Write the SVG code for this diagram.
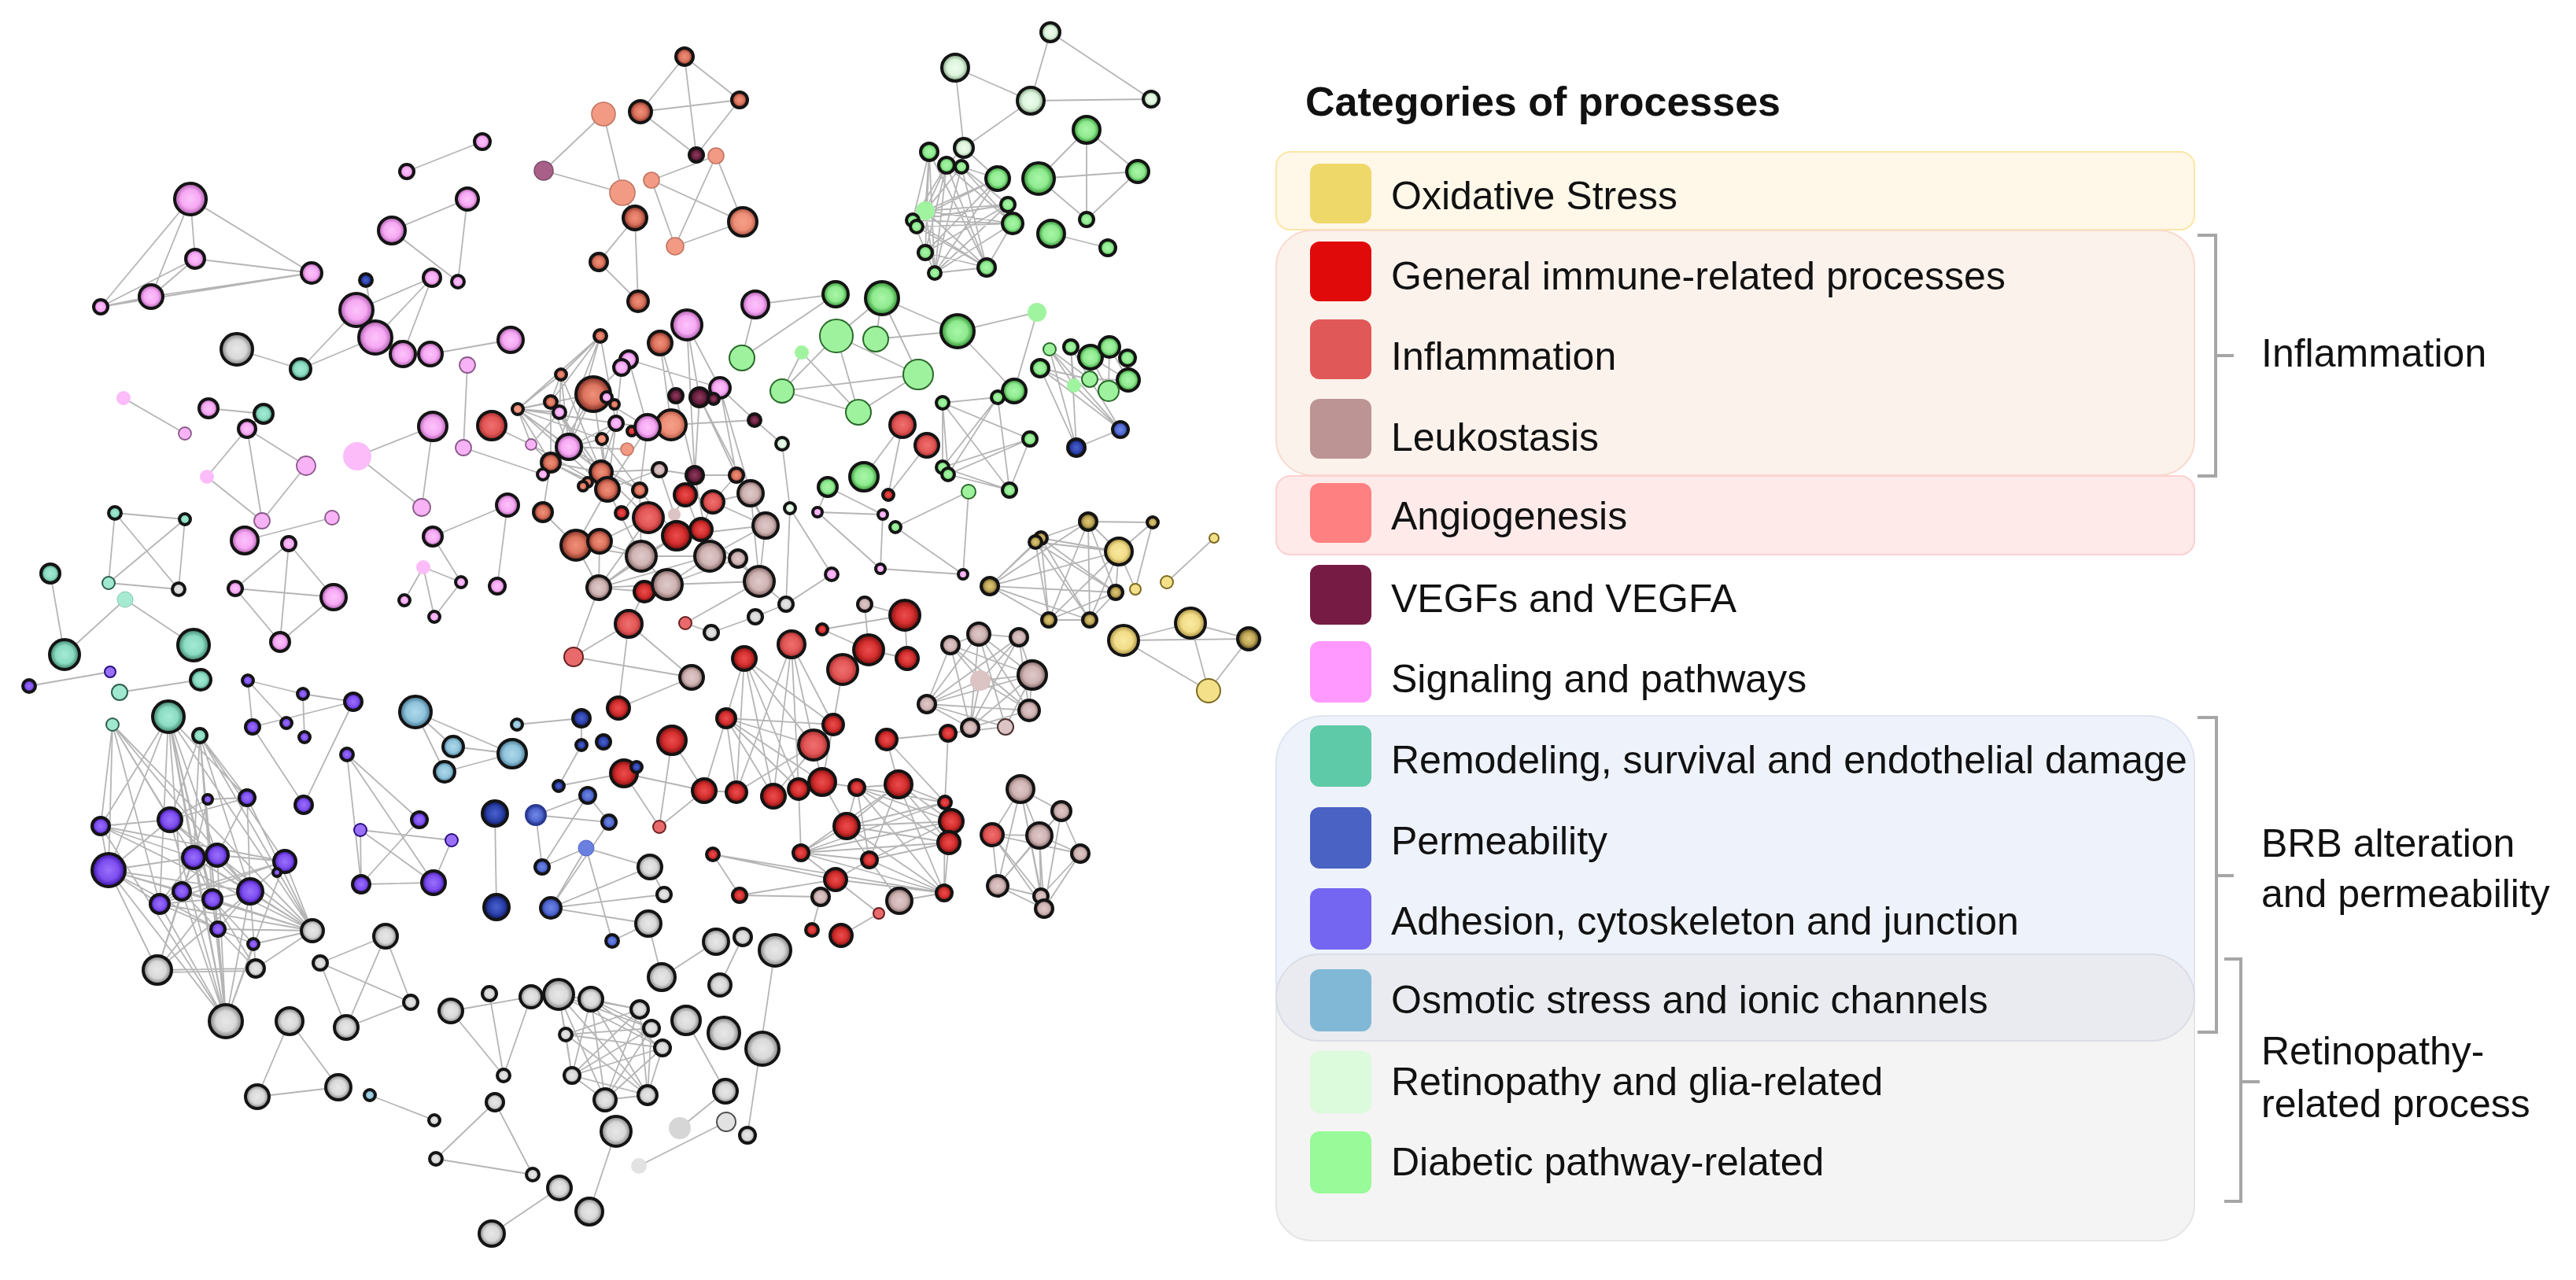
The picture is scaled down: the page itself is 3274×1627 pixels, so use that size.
<svg xmlns="http://www.w3.org/2000/svg" width="3274" height="1627" viewBox="0 0 3274 1627">
<defs>
<radialGradient id="gpk"><stop offset="0" stop-color="#fcc4fb"/><stop offset="0.6" stop-color="#f6a8f3"/><stop offset="1" stop-color="#a858a8"/></radialGradient>
<radialGradient id="gbr"><stop offset="0" stop-color="#f0917a"/><stop offset="0.55" stop-color="#dc745e"/><stop offset="1" stop-color="#7a2a20"/></radialGradient>
<radialGradient id="gsal"><stop offset="0" stop-color="#f6a08a"/><stop offset="0.6" stop-color="#ee8e76"/><stop offset="1" stop-color="#a85040"/></radialGradient>
<radialGradient id="ginf"><stop offset="0" stop-color="#ef7070"/><stop offset="0.6" stop-color="#e25656"/><stop offset="1" stop-color="#a02828"/></radialGradient>
<radialGradient id="gimm"><stop offset="0" stop-color="#ea4e4e"/><stop offset="0.55" stop-color="#d63030"/><stop offset="1" stop-color="#7a0c0c"/></radialGradient>
<radialGradient id="gleu"><stop offset="0" stop-color="#e0caca"/><stop offset="0.6" stop-color="#cfb3b3"/><stop offset="1" stop-color="#7a5c5c"/></radialGradient>
<radialGradient id="gveg"><stop offset="0" stop-color="#8e3e5e"/><stop offset="0.6" stop-color="#6a1e40"/><stop offset="1" stop-color="#2a0815"/></radialGradient>
<radialGradient id="gox"><stop offset="0" stop-color="#f9eaa2"/><stop offset="0.6" stop-color="#f1dc88"/><stop offset="1" stop-color="#a08838"/></radialGradient>
<radialGradient id="golv"><stop offset="0" stop-color="#e0ca7a"/><stop offset="0.55" stop-color="#bea656"/><stop offset="1" stop-color="#4a3a10"/></radialGradient>
<radialGradient id="gteal"><stop offset="0" stop-color="#a6ead4"/><stop offset="0.6" stop-color="#8adcc2"/><stop offset="1" stop-color="#367a64"/></radialGradient>
<radialGradient id="gperm"><stop offset="0" stop-color="#7088e4"/><stop offset="0.6" stop-color="#5068d0"/><stop offset="1" stop-color="#1a2a80"/></radialGradient>
<radialGradient id="gnavy"><stop offset="0" stop-color="#4a62cc"/><stop offset="0.6" stop-color="#2c40aa"/><stop offset="1" stop-color="#0a1450"/></radialGradient>
<radialGradient id="gadh"><stop offset="0" stop-color="#9a70fa"/><stop offset="0.6" stop-color="#7e4ef0"/><stop offset="1" stop-color="#3a10a0"/></radialGradient>
<radialGradient id="gosm"><stop offset="0" stop-color="#aed8ea"/><stop offset="0.6" stop-color="#90c4dc"/><stop offset="1" stop-color="#3e6e88"/></radialGradient>
<radialGradient id="gret"><stop offset="0" stop-color="#f0fcf0"/><stop offset="0.6" stop-color="#dcf4dc"/><stop offset="1" stop-color="#789878"/></radialGradient>
<radialGradient id="gdia"><stop offset="0" stop-color="#aaf6aa"/><stop offset="0.6" stop-color="#8eea8e"/><stop offset="1" stop-color="#288a28"/></radialGradient>
<radialGradient id="ggry"><stop offset="0" stop-color="#e8e8e8"/><stop offset="0.6" stop-color="#d8d8d8"/><stop offset="1" stop-color="#7a7a7a"/></radialGradient>
</defs>
<style>
circle{stroke:#141414;stroke-width:4}
.pk{fill:url(#gpk)} .br{fill:url(#gbr)} .sal{fill:url(#gsal)} .inf{fill:url(#ginf)} .imm{fill:url(#gimm)}
.leu{fill:url(#gleu)} .veg{fill:url(#gveg)} .ox{fill:url(#gox)} .olv{fill:url(#golv)} .teal{fill:url(#gteal)}
.perm{fill:url(#gperm)} .navy{fill:url(#gnavy)} .adh{fill:url(#gadh)} .osm{fill:url(#gosm)} .ret{fill:url(#gret)}
.dia{fill:url(#gdia)} .gry{fill:url(#ggry)}
.pkl{fill:#f8b2f6;stroke:#8a5a8a;stroke-width:1.8}
.pkn{fill:#fbbcf9;stroke:none}
.sn{fill:#f29a84;stroke:#c27462;stroke-width:1.6}
.mv{fill:#a86088;stroke:#7a4a66;stroke-width:1.5}
.inft{fill:#e86a6a;stroke:#6a2020;stroke-width:2}
.tealt{fill:#a0e8d0;stroke:#2e5e4e;stroke-width:2}
.tealn{fill:#a6ead2;stroke:#8ac8b4;stroke-width:1}
.adhl{fill:#9a70f8;stroke:#2a1080;stroke-width:2}
.perml{fill:url(#gperm);stroke:#2a3a90;stroke-width:2}
.permn{fill:#6a80e0;stroke:#5060c0;stroke-width:1}
.leun{fill:#dcc4c4;stroke:none}
.leut{fill:#dcc4c4;stroke:#4a3030;stroke-width:2}
.oxt{fill:#f5e08a;stroke:#7a6a20;stroke-width:2}
.dian{fill:#a0f4a0;stroke:none}
.diat{fill:#9ef29e;stroke:#2a6a2a;stroke-width:2}
.gryn{fill:#d6d6d6;stroke:none}
.gryt{fill:#e2e2e2;stroke:#505050;stroke-width:2}
.edges path{fill:none;stroke:#a2a2a2;stroke-width:1.8;stroke-opacity:0.8}
.box{stroke-width:2}
.sw{stroke:none}
.lt{font-family:"Liberation Sans",Arial,sans-serif;font-size:50px;fill:#111}
.br2{fill:none;stroke:#a6a6a6;stroke-width:4}
</style>
<rect width="3274" height="1627" fill="#ffffff"/>

<g id="connectors" class="edges">
<path d="M870 72L814 142M870 72L940 127M870 72L885 197M814 142L940 127M814 142L885 197M940 127L885 197M767 145L691 217M767 145L791 245M691 217L791 245M910 198L828 229M910 198L858 313M910 198L944 282M828 229L944 282M828 229L858 313M944 282L858 313M791 245L807 277M807 277L761 333M807 277L811 383M761 333L811 383"/>
<path d="M613 180L517 218M594 253L498 293M594 253L582 358M498 293L582 358M242 253L128 390M242 253L192 377M242 253L248 329M242 253L396 347M248 329L396 347M248 329L192 377M248 329L128 390M192 377L128 390M192 377L396 347M128 390L396 347M549 353L453 394M549 353L477 429M549 353L512 450M465 356L477 429M453 394L382 469M477 429L382 469M301 444L382 469M547 450L649 432M594 464L589 569M157 506L235 551M265 519L335 526M314 545L335 526M314 545L389 592M314 545L263 606M314 545L333 662M389 592L333 662M263 606L333 662M311 687L422 658M367 691L299 748M367 691L424 759M367 691L356 816M299 748L424 759M299 748L356 816M424 759L356 816M454 580L550 542M454 580L536 645M550 542L536 645M645 642L550 682M645 642L632 745M550 682L586 740M538 721L586 740M538 721L514 763M538 721L552 784M586 740L552 784M589 569L690 603M625 541L675 565"/>
<path d="M146 652L235 660M146 652L138 741M146 652L227 749M235 660L138 741M235 660L227 749M138 741L227 749M64 729L82 832M159 762L82 832M159 762L246 820M37 872L140 854M152 880L255 864M315 865L385 882M315 865L321 924M315 865L364 919M385 882L449 892M385 882L387 937M321 924L449 892M321 924L386 1023M449 892L386 1023"/>
<path d="M143 921L128 1050M143 921L138 1106M143 921L216 1042M143 921L246 1090M143 921L203 1149M143 921L318 1133M143 921L397 1183M214 911L128 1050M214 911L138 1106M214 911L246 1090M214 911L276 1087M214 911L231 1133M214 911L270 1143M214 911L277 1181M214 911L287 1298M214 911L203 1149M214 911L314 1014M214 911L397 1183M254 935L216 1042M254 935L246 1090M254 935L362 1095M254 935L270 1143M254 935L318 1133M254 935L397 1183M254 935L277 1181M254 935L287 1298M254 935L314 1014M128 1050L216 1042M128 1050L138 1106M128 1050L246 1090M128 1050L362 1095M128 1050L397 1183M216 1042L138 1106M216 1042L276 1087M216 1042L314 1014M216 1042L264 1016M216 1042L318 1133M138 1106L246 1090M138 1106L231 1133M138 1106L203 1149M138 1106L270 1143M138 1106L318 1133M138 1106L200 1233M138 1106L287 1298M138 1106L277 1181M138 1106L397 1183M246 1090L276 1087M246 1090L231 1133M246 1090L270 1143M246 1090L318 1133M246 1090L397 1183M246 1090L203 1149M276 1087L362 1095M276 1087L318 1133M276 1087L203 1149M276 1087L397 1183M264 1016L314 1014M264 1016L246 1090M314 1014L276 1087M314 1014L397 1183M314 1014L318 1133M362 1095L318 1133M362 1095L397 1183M362 1095L203 1149M362 1095L231 1133M231 1133L203 1149M231 1133L270 1143M231 1133L277 1181M231 1133L287 1298M203 1149L270 1143M203 1149L277 1181M203 1149L287 1298M203 1149L397 1183M270 1143L318 1133M270 1143L287 1298M270 1143L397 1183M270 1143L322 1200M318 1133L397 1183M318 1133L277 1181M318 1133L287 1298M277 1181L397 1183M277 1181L322 1200M277 1181L287 1298M322 1200L397 1183M322 1200L287 1298M200 1233L325 1231M200 1236L325 1234M200 1233L246 1090M200 1233L231 1133M200 1233L270 1143M200 1233L318 1133M325 1231L270 1143M325 1231L318 1133M325 1231L277 1181M325 1231L397 1183M325 1231L231 1133M287 1298L246 1090M287 1298L276 1087M287 1298L362 1095M287 1298L216 1042M287 1298L128 1050"/>
<path d="M441 959L459 1124M441 959L551 1122M441 959L533 1042M458 1055L574 1068M458 1055L551 1122M458 1055L459 1124M533 1042L459 1124M574 1068L551 1122M459 1124L551 1122"/>
<path d="M528 905L576 949M528 905L651 958M528 905L565 981M576 949L651 958M565 981L651 958M657 921L739 913M739 913L739 947M739 947L710 999M710 999L793 983M747 1011L681 1036M747 1011L689 1102M747 1011L774 1045M681 1036L774 1045M681 1036L689 1102M745 1078L689 1102M745 1078L700 1154M745 1078L778 1196M745 1078L826 1102M629 1034L631 1153M774 1045L700 1154M700 1154L826 1102M700 1154L844 1137M700 1154L824 1174M778 1196L824 1174"/>
<path d="M799 793L729 835M799 793L786 900M799 793L879 861M729 835L879 861M879 861L786 900M729 835L761 747M799 793L819 752M854 941L895 1005M854 941L838 1051M793 983L895 1005M793 983L838 1051M895 1005L838 1051M871 792L965 739M871 792L904 804M904 804L960 784M960 784L999 768M999 768L1004 646M1004 646L994 564M1057 730L999 768"/>
<path d="M946 837L923 913M946 837L936 1007M946 837L983 1012M946 837L1015 1003M946 837L1034 947M946 837L1059 921M923 913L936 1007M923 913L983 1012M923 913L1015 1003M923 913L1059 921M923 913L1034 947M923 913L1045 994M923 913L895 1005M1006 819L1059 921M1006 819L1034 947M1006 819L1015 1003M1006 819L983 1012M1006 819L936 1007M1059 921L1071 851M1059 921L1045 994M1059 921L983 1012M1034 947L1045 994M1034 947L936 1007M1045 994L1089 1001M1089 1001L1142 997M936 1007L895 1005M1071 851L1104 826M1150 782L1153 837M1150 782L1045 800M1150 782L1099 768M1045 800L1104 826M1099 768L1104 826M1104 826L1153 837M1127 940L1205 932M1127 940L1201 1020M1205 932L1201 1020M1127 940L1142 997"/>
<path d="M1142 997L1201 1020M1142 997L1209 1044M1142 997L1206 1071M1142 997L1076 1050M1142 997L1105 1093M1142 997L1200 1135M1142 997L1018 1084M1089 1001L1201 1020M1089 1001L1209 1044M1089 1001L1206 1071M1089 1001L1076 1050M1089 1001L1200 1135M1089 1001L1105 1093M1076 1050L1201 1020M1076 1050L1209 1044M1076 1050L1206 1071M1076 1050L1105 1093M1076 1050L1018 1084M1076 1050L1200 1135M1018 1084L1201 1020M1018 1084L1209 1044M1018 1084L1206 1071M1018 1084L1200 1135M1018 1084L1105 1093M1105 1093L1209 1044M1105 1093L1206 1071M1105 1093L1200 1135M1201 1020L1200 1135M1206 1071L1200 1135M1045 994L1076 1050M1015 1003L1018 1084M906 1086L940 1138M906 1086L1200 1135M906 1086L1062 1118M940 1138L1062 1118M940 1138L1043 1140M1062 1118L1043 1140M1062 1118L1117 1161M1062 1118L1200 1135M1043 1140L1032 1182M1117 1161L1069 1189M1143 1145L1200 1135M1143 1145L1105 1093M1062 1118L1105 1093M1062 1118L1018 1084"/>
<path d="M1208 820L1244 806M1208 820L1178 895M1208 820L1246 865M1208 820L1312 858M1208 820L1308 903M1208 820L1233 925M1244 806L1295 810M1244 806L1312 858M1244 806L1178 895M1244 806L1233 925M1244 806L1308 903M1244 806L1278 924M1295 810L1312 858M1295 810L1308 903M1295 810L1178 895M1295 810L1246 865M1295 810L1233 925M1246 865L1178 895M1246 865L1312 858M1246 865L1233 925M1246 865L1308 903M1312 858L1178 895M1312 858L1308 903M1312 858L1233 925M1312 858L1278 924M1178 895L1308 903M1178 895L1233 925M1178 895L1278 924M1308 903L1233 925M1205 932L1278 924"/>
<path d="M1297 1003L1349 1031M1297 1003L1261 1061M1297 1003L1321 1062M1297 1003L1268 1126M1297 1003L1323 1139M1297 1003L1327 1155M1349 1031L1321 1062M1349 1031L1373 1085M1349 1031L1268 1126M1349 1031L1327 1155M1261 1061L1321 1062M1261 1061L1268 1126M1261 1061L1323 1139M1261 1061L1327 1155M1261 1061L1373 1085M1321 1062L1373 1085M1321 1062L1268 1126M1321 1062L1323 1139M1321 1062L1327 1155M1373 1085L1323 1139M1373 1085L1327 1155M1268 1126L1323 1139M1268 1126L1327 1155"/>
<path d="M1383 663L1465 664M1383 663L1323 684M1383 663L1422 701M1383 663L1258 745M1383 663L1418 753M1383 663L1333 788M1383 663L1385 788M1323 684L1422 701M1323 684L1258 745M1323 684L1418 753M1323 684L1333 788M1323 684L1385 788M1316 689L1258 745M1316 689L1333 788M1316 689L1385 788M1316 689L1418 753M1316 689L1422 701M1422 701L1258 745M1422 701L1418 753M1422 701L1333 788M1422 701L1385 788M1422 701L1465 664M1422 701L1443 749M1258 745L1418 753M1258 745L1333 788M1258 745L1385 788M1418 753L1333 788M1418 753L1385 788M1465 664L1443 749M1333 788L1385 788M1483 740L1543 684M1428 814L1513 792M1428 814L1587 812M1428 814L1536 878M1513 792L1587 812M1513 792L1536 878M1587 812L1536 878"/>
<path d="M1214 86L1310 128M1214 86L1225 188M1335 41L1310 128M1335 41L1463 126M1310 128L1463 126M1310 128L1225 188M1181 193L1176 268M1181 193L1160 280M1181 193L1176 321M1181 193L1188 347M1181 193L1254 340M1203 210L1176 268M1203 210L1160 280M1203 210L1176 321M1203 210L1188 347M1203 210L1254 340M1203 210L1287 284M1222 212L1268 227M1222 212L1281 260M1222 212L1287 284M1222 212L1188 347M1222 212L1254 340M1222 212L1176 268M1268 227L1176 268M1268 227L1160 280M1268 227L1176 321M1268 227L1188 347M1176 268L1281 260M1176 268L1287 284M1176 268L1254 340M1176 268L1188 347M1281 260L1160 280M1281 260L1188 347M1281 260L1176 321M1160 280L1287 284M1160 280L1254 340M1160 280L1188 347M1165 288L1287 284M1165 288L1254 340M1176 321L1254 340M1287 284L1254 340M1287 284L1188 347M1254 340L1188 347M1225 188L1222 212M1225 188L1268 227M1225 188L1203 210M1381 165L1320 227M1381 165L1446 218M1381 165L1381 279M1320 227L1446 218M1320 227L1381 279M1446 218L1381 279M1336 297L1408 315"/>
<path d="M960 387L1062 374M1062 374L943 455M960 387L943 455M1121 379L1113 431M1121 379L1217 421M1121 379L1167 476M1121 379L1063 427M1217 421L1318 397M1217 421L1289 497M1318 397L1289 497M1113 431L1217 421M1063 427L1167 476M1063 427L1091 524M1019 448L994 497M1019 448L1091 524M994 497L1167 476M994 497L1091 524M1167 476L1091 524M1063 427L994 497M1198 512L1268 505M1198 512L1198 594M1198 512L1205 603M1198 512L1309 558M1198 512L1283 623M1268 505L1198 594M1268 505L1205 603M1268 505L1283 623M1309 558L1198 594M1309 558L1205 603M1309 558L1283 623M1198 594L1283 623M1205 603L1283 623M1147 540L1098 606M1147 540L1129 629M1178 566L1129 629M1052 619L1039 651M1052 619L1122 654M1039 651L1122 654M1039 651L1119 723M1122 654L1119 723M1231 625L1138 670M1231 625L1224 730M1138 670L1224 730M1119 723L1224 730M1004 646L1057 730"/>
<path d="M1334 444L1365 490M1334 444L1385 482M1334 444L1368 569M1334 444L1424 546M1361 441L1365 490M1361 441L1368 569M1361 441L1385 482M1386 454L1409 497M1386 454L1434 483M1410 441L1434 483M1410 441L1409 497M1433 455L1434 483M1385 482L1434 483M1322 468L1365 490M1322 468L1368 569M1322 468L1424 546M1322 468L1385 482M1365 490L1424 546M1385 482L1424 546M1424 546L1368 569"/>
<path d="M763 427L713 476M763 427L658 520M763 427L700 511M763 427L723 568M763 427L783 538M763 427L700 588M713 476L658 520M713 476L700 511M713 476L711 524M713 476L723 568M713 476L764 600M754 501L658 520M754 501L723 568M754 501L700 588M754 501L772 622M754 501L823 543M700 511L658 520M700 511L723 568M700 511L700 588M700 511L764 600M700 511L772 622M711 524L658 520M711 524L675 565M711 524L764 600M658 520L675 565M658 520L723 568M658 520L700 588M658 520L764 600M658 520L772 622M658 520L765 558M658 520L783 538M675 565L700 588M675 565L772 622M723 568L765 558M723 568L797 571M723 568L783 538M723 568L764 600M723 568L813 623M765 558L783 538M765 558L772 622M765 558L813 623M783 538L823 543M783 538L764 600M783 538L772 622M823 543L813 623M823 543L772 622M700 588L764 600M700 588L772 622M700 588L747 613M700 588L690 651M764 600L813 623M764 600L838 597M772 622L838 597M772 622L732 693M799 457L823 543M790 467L783 538M790 467L754 501M799 457L915 493M839 436L859 503M839 436L853 540M873 413L889 505M873 413L915 493M873 413L883 604M889 505L883 604M889 505L936 604M889 505L973 668M915 493L959 534M915 493L954 627M915 493L936 604M959 534L994 564M959 534L853 540M859 503L883 604"/>
<path d="M761 747L815 707M761 747L848 743M761 747L902 707M761 747L860 681M761 747L824 658M815 707L902 707M815 707L860 681M815 707L848 743M815 707L762 688M902 707L938 710M902 707L848 743M902 707L891 673M902 707L973 668M848 743L965 739M848 743L819 752M848 743L938 710M965 739L973 668M965 739L938 710M965 739L891 673M965 739L954 627M871 629L906 638M871 629L857 654M871 629L883 604M871 629L902 707M906 638L954 627M906 638L891 673M906 638L973 668M906 638L936 604M954 627L973 668M954 627L936 604M860 681L891 673M860 681L973 668M838 597L857 654M813 623L790 652M883 604L936 604M838 597L883 604M883 604L902 707M732 693L761 747M762 688L824 658M732 693L690 651M732 693L815 707M762 688L761 747M772 622L815 707M764 600L824 658M813 623L815 707M813 623L860 681M761 747L819 752M965 739L999 768"/>
<path d="M407 1224L490 1190M407 1224L522 1274M407 1224L440 1306M490 1190L440 1306M522 1274L440 1306M490 1190L522 1274M368 1298L327 1394M368 1298L430 1382M327 1394L430 1382M470 1392L552 1424M573 1285L675 1267M573 1285L640 1367M622 1263L640 1367M675 1267L640 1367M710 1264L813 1283M710 1264L828 1307M710 1264L842 1332M710 1264L727 1367M710 1264L769 1398M710 1264L823 1392M710 1264L719 1315M751 1270L813 1283M751 1270L828 1307M751 1270L842 1332M751 1270L727 1367M751 1270L769 1398M751 1270L823 1392M813 1283L719 1315M813 1283L727 1367M813 1283L823 1392M813 1283L769 1398M828 1307L719 1315M828 1307L727 1367M828 1307L769 1398M828 1307L823 1392M842 1332L719 1315M842 1332L727 1367M842 1332L769 1398M842 1332L823 1392M719 1315L727 1367M719 1315L823 1392M727 1367L769 1398M769 1398L823 1392M727 1367L823 1392M629 1401L554 1473M629 1401L677 1493M554 1473L677 1493M711 1510L625 1568M749 1540L783 1438M826 1102L844 1137M824 1174L841 1242M841 1242L910 1197M944 1191L915 1252M985 1208L950 1443M872 1297L922 1387M922 1387L864 1434M923 1426L812 1482"/>
</g>

<g id="nodes">
<g id="nA1"><circle class="br" cx="870" cy="72" r="11"/></g>
<g id="nA2"><circle class="br" cx="814" cy="142" r="14"/></g>
<g id="nA3"><circle class="sn" cx="767" cy="145" r="15"/></g>
<g id="nA4"><circle class="br" cx="940" cy="127" r="10"/></g>
<g id="nA5"><circle class="mv" cx="691" cy="217" r="12"/></g>
<g id="nA6"><circle class="veg" cx="885" cy="197" r="9"/></g>
<g id="nA7"><circle class="sn" cx="910" cy="198" r="10"/></g>
<g id="nA8"><circle class="sn" cx="828" cy="229" r="10"/></g>
<g id="nA9"><circle class="sn" cx="791" cy="245" r="16"/></g>
<g id="nA10"><circle class="br" cx="807" cy="277" r="15"/></g>
<g id="nA11"><circle class="sal" cx="944" cy="282" r="18"/></g>
<g id="nA12"><circle class="sn" cx="858" cy="313" r="11"/></g>
<g id="nA13"><circle class="br" cx="761" cy="333" r="11"/></g>
<g id="nA14"><circle class="br" cx="811" cy="383" r="13"/></g>
<g id="nP1"><circle class="pk" cx="613" cy="180" r="10"/></g>
<g id="nP2"><circle class="pk" cx="517" cy="218" r="9"/></g>
<g id="nP3"><circle class="pk" cx="594" cy="253" r="14"/></g>
<g id="nP4"><circle class="pk" cx="498" cy="293" r="17"/></g>
<g id="nP5"><circle class="pk" cx="582" cy="358" r="8"/></g>
<g id="nP6"><circle class="pk" cx="242" cy="253" r="20"/></g>
<g id="nP7"><circle class="pk" cx="248" cy="329" r="12"/></g>
<g id="nP8"><circle class="pk" cx="396" cy="347" r="13"/></g>
<g id="nP9"><circle class="pk" cx="192" cy="377" r="15"/></g>
<g id="nP10"><circle class="pk" cx="128" cy="390" r="9"/></g>
<g id="nP11"><circle class="pk" cx="549" cy="353" r="11"/></g>
<g id="nAD1"><circle class="navy" cx="465" cy="356" r="8"/></g>
<g id="nP13"><circle class="pk" cx="453" cy="394" r="21"/></g>
<g id="nP14"><circle class="pk" cx="477" cy="429" r="21"/></g>
<g id="nP15"><circle class="pk" cx="512" cy="450" r="16"/></g>
<g id="nP16"><circle class="pk" cx="547" cy="450" r="15"/></g>
<g id="nP17"><circle class="pk" cx="649" cy="432" r="16"/></g>
<g id="nG1"><circle class="gry" cx="301" cy="444" r="20"/></g>
<g id="nT1"><circle class="teal" cx="382" cy="469" r="13"/></g>
<g id="nP18"><circle class="pkl" cx="594" cy="464" r="10"/></g>
<g id="nP19"><circle class="pkn" cx="157" cy="506" r="9"/></g>
<g id="nP20"><circle class="pkl" cx="235" cy="551" r="8"/></g>
<g id="nP21"><circle class="pk" cx="265" cy="519" r="12"/></g>
<g id="nT2"><circle class="teal" cx="335" cy="526" r="12"/></g>
<g id="nP22"><circle class="pk" cx="314" cy="545" r="11"/></g>
<g id="nP23"><circle class="pkl" cx="389" cy="592" r="12"/></g>
<g id="nP24"><circle class="pkn" cx="263" cy="606" r="9"/></g>
<g id="nP25"><circle class="pkl" cx="333" cy="662" r="10"/></g>
<g id="nP26"><circle class="pk" cx="311" cy="687" r="17"/></g>
<g id="nP27"><circle class="pk" cx="367" cy="691" r="9"/></g>
<g id="nP28"><circle class="pkl" cx="422" cy="658" r="9"/></g>
<g id="nP29"><circle class="pk" cx="299" cy="748" r="9"/></g>
<g id="nP30"><circle class="pk" cx="424" cy="759" r="16"/></g>
<g id="nP31"><circle class="pk" cx="356" cy="816" r="12"/></g>
<g id="nP32"><circle class="pkn" cx="454" cy="580" r="18"/></g>
<g id="nP33"><circle class="pk" cx="550" cy="542" r="18"/></g>
<g id="nP34"><circle class="pkl" cx="536" cy="645" r="11"/></g>
<g id="nP35"><circle class="pkl" cx="589" cy="569" r="10"/></g>
<g id="nP36"><circle class="pk" cx="645" cy="642" r="14"/></g>
<g id="nP37"><circle class="pk" cx="550" cy="682" r="12"/></g>
<g id="nP38"><circle class="pkn" cx="538" cy="721" r="9"/></g>
<g id="nP39"><circle class="pk" cx="586" cy="740" r="7"/></g>
<g id="nP40"><circle class="pk" cx="632" cy="745" r="10"/></g>
<g id="nP41"><circle class="pk" cx="514" cy="763" r="7"/></g>
<g id="nP42"><circle class="pk" cx="552" cy="784" r="7"/></g>
<g id="nP43"><circle class="pk" cx="960" cy="387" r="17"/></g>
<g id="nT3"><circle class="teal" cx="146" cy="652" r="8"/></g>
<g id="nT4"><circle class="teal" cx="235" cy="660" r="7"/></g>
<g id="nT5"><circle class="tealt" cx="138" cy="741" r="8"/></g>
<g id="nG2"><circle class="gry" cx="227" cy="749" r="8"/></g>
<g id="nT6"><circle class="teal" cx="64" cy="729" r="12"/></g>
<g id="nT7"><circle class="tealn" cx="159" cy="762" r="10"/></g>
<g id="nT8"><circle class="teal" cx="82" cy="832" r="19"/></g>
<g id="nT9"><circle class="teal" cx="246" cy="820" r="20"/></g>
<g id="nAD2"><circle class="adh" cx="37" cy="872" r="8"/></g>
<g id="nAD3"><circle class="adhl" cx="140" cy="854" r="7"/></g>
<g id="nT10"><circle class="tealt" cx="152" cy="880" r="10"/></g>
<g id="nT11"><circle class="teal" cx="255" cy="864" r="13"/></g>
<g id="nAD4"><circle class="adh" cx="315" cy="865" r="7"/></g>
<g id="nAD5"><circle class="adh" cx="385" cy="882" r="7"/></g>
<g id="nAD6"><circle class="adh" cx="449" cy="892" r="11"/></g>
<g id="nAD7"><circle class="adh" cx="321" cy="924" r="9"/></g>
<g id="nAD8"><circle class="adh" cx="364" cy="919" r="7"/></g>
<g id="nAD9"><circle class="adh" cx="387" cy="937" r="7"/></g>
<g id="nAD10"><circle class="adh" cx="386" cy="1023" r="11"/></g>
<g id="nT12"><circle class="tealt" cx="143" cy="921" r="8"/></g>
<g id="nT13"><circle class="teal" cx="214" cy="911" r="20"/></g>
<g id="nT14"><circle class="teal" cx="254" cy="935" r="9"/></g>
<g id="nAD11"><circle class="adh" cx="264" cy="1016" r="6"/></g>
<g id="nAD12"><circle class="adh" cx="314" cy="1014" r="10"/></g>
<g id="nAD13"><circle class="adh" cx="128" cy="1050" r="11"/></g>
<g id="nAD14"><circle class="adh" cx="216" cy="1042" r="15"/></g>
<g id="nAD15"><circle class="adh" cx="138" cy="1106" r="21"/></g>
<g id="nAD16"><circle class="adh" cx="246" cy="1090" r="14"/></g>
<g id="nAD17"><circle class="adh" cx="276" cy="1087" r="14"/></g>
<g id="nAD18"><circle class="adh" cx="362" cy="1095" r="14"/></g>
<g id="nAD19"><circle class="adh" cx="352" cy="1109" r="5"/></g>
<g id="nAD20"><circle class="adh" cx="231" cy="1133" r="11"/></g>
<g id="nAD21"><circle class="adh" cx="203" cy="1149" r="12"/></g>
<g id="nAD22"><circle class="adh" cx="270" cy="1143" r="12"/></g>
<g id="nAD23"><circle class="adh" cx="318" cy="1133" r="16"/></g>
<g id="nAD24"><circle class="adh" cx="277" cy="1181" r="9"/></g>
<g id="nAD25"><circle class="adh" cx="322" cy="1200" r="7"/></g>
<g id="nAD26"><circle class="adh" cx="441" cy="959" r="8"/></g>
<g id="nAD27"><circle class="adhl" cx="458" cy="1055" r="8"/></g>
<g id="nAD28"><circle class="adh" cx="551" cy="1122" r="15"/></g>
<g id="nAD29"><circle class="adh" cx="459" cy="1124" r="11"/></g>
<g id="nAD30"><circle class="adhl" cx="574" cy="1068" r="8"/></g>
<g id="nAD31"><circle class="adh" cx="533" cy="1042" r="10"/></g>
<g id="nO1"><circle class="osm" cx="528" cy="905" r="20"/></g>
<g id="nO2"><circle class="osm" cx="657" cy="921" r="7"/></g>
<g id="nO3"><circle class="osm" cx="576" cy="949" r="13"/></g>
<g id="nO4"><circle class="osm" cx="651" cy="958" r="18"/></g>
<g id="nO5"><circle class="osm" cx="565" cy="981" r="13"/></g>
<g id="nO6"><circle class="osm" cx="470" cy="1392" r="7"/></g>
<g id="nPB1"><circle class="navy" cx="739" cy="913" r="11"/></g>
<g id="nPB2"><circle class="navy" cx="739" cy="947" r="7"/></g>
<g id="nPB3"><circle class="navy" cx="767" cy="943" r="9"/></g>
<g id="nPB4"><circle class="navy" cx="710" cy="999" r="7"/></g>
<g id="nPB5"><circle class="perm" cx="747" cy="1011" r="10"/></g>
<g id="nPB6"><circle class="navy" cx="629" cy="1034" r="16"/></g>
<g id="nPB7"><circle class="perml" cx="681" cy="1036" r="13"/></g>
<g id="nPB8"><circle class="perm" cx="774" cy="1045" r="9"/></g>
<g id="nPB9"><circle class="permn" cx="745" cy="1078" r="10"/></g>
<g id="nPB10"><circle class="perm" cx="689" cy="1102" r="9"/></g>
<g id="nPB11"><circle class="navy" cx="631" cy="1153" r="16"/></g>
<g id="nPB12"><circle class="perm" cx="700" cy="1154" r="13"/></g>
<g id="nPB13"><circle class="perm" cx="778" cy="1196" r="8"/></g>
<g id="nPB14"><circle class="perm" cx="1424" cy="546" r="10"/></g>
<g id="nPB15"><circle class="navy" cx="1368" cy="569" r="11"/></g>
<g id="nR1"><circle class="imm" cx="786" cy="900" r="14"/></g>
<g id="nR2"><circle class="imm" cx="854" cy="941" r="18"/></g>
<g id="nR3"><circle class="imm" cx="793" cy="983" r="17"/></g>
<g id="nR4"><circle class="navy" cx="809" cy="975" r="7"/></g>
<g id="nR5"><circle class="inft" cx="838" cy="1051" r="8"/></g>
<g id="nR6"><circle class="imm" cx="895" cy="1005" r="15"/></g>
<g id="nR7"><circle class="imm" cx="936" cy="1007" r="13"/></g>
<g id="nR8"><circle class="imm" cx="983" cy="1012" r="15"/></g>
<g id="nR9"><circle class="imm" cx="1015" cy="1003" r="13"/></g>
<g id="nR10"><circle class="imm" cx="1045" cy="994" r="17"/></g>
<g id="nR11"><circle class="imm" cx="1089" cy="1001" r="10"/></g>
<g id="nR12"><circle class="imm" cx="1142" cy="997" r="17"/></g>
<g id="nR13"><circle class="imm" cx="1201" cy="1020" r="8"/></g>
<g id="nR14"><circle class="imm" cx="1209" cy="1044" r="15"/></g>
<g id="nR15"><circle class="imm" cx="1206" cy="1071" r="14"/></g>
<g id="nR16"><circle class="imm" cx="1200" cy="1135" r="10"/></g>
<g id="nR17"><circle class="imm" cx="1076" cy="1050" r="16"/></g>
<g id="nR18"><circle class="imm" cx="1018" cy="1084" r="10"/></g>
<g id="nR19"><circle class="imm" cx="1105" cy="1093" r="10"/></g>
<g id="nR20"><circle class="imm" cx="1062" cy="1118" r="14"/></g>
<g id="nR21"><circle class="imm" cx="940" cy="1138" r="9"/></g>
<g id="nL1"><circle class="leu" cx="1043" cy="1140" r="11"/></g>
<g id="nL2"><circle class="leu" cx="1143" cy="1145" r="16"/></g>
<g id="nR22"><circle class="inft" cx="1117" cy="1161" r="7"/></g>
<g id="nR23"><circle class="imm" cx="906" cy="1086" r="8"/></g>
<g id="nR24"><circle class="imm" cx="1032" cy="1182" r="8"/></g>
<g id="nR25"><circle class="imm" cx="1069" cy="1189" r="14"/></g>
<g id="nI1"><circle class="inf" cx="799" cy="793" r="17"/></g>
<g id="nI2"><circle class="inft" cx="871" cy="792" r="8"/></g>
<g id="nI3"><circle class="inft" cx="729" cy="835" r="12"/></g>
<g id="nL3"><circle class="leu" cx="879" cy="861" r="15"/></g>
<g id="nR26"><circle class="imm" cx="923" cy="913" r="12"/></g>
<g id="nR27"><circle class="imm" cx="1059" cy="921" r="13"/></g>
<g id="nI4"><circle class="inf" cx="1034" cy="947" r="19"/></g>
<g id="nR28"><circle class="imm" cx="1127" cy="940" r="13"/></g>
<g id="nR29"><circle class="imm" cx="1205" cy="932" r="10"/></g>
<g id="nR30"><circle class="imm" cx="1150" cy="782" r="19"/></g>
<g id="nR31"><circle class="imm" cx="1045" cy="800" r="7"/></g>
<g id="nL4"><circle class="leu" cx="1099" cy="768" r="9"/></g>
<g id="nR32"><circle class="imm" cx="1104" cy="826" r="19"/></g>
<g id="nR33"><circle class="imm" cx="1153" cy="837" r="14"/></g>
<g id="nI5"><circle class="inf" cx="1071" cy="851" r="19"/></g>
<g id="nI6"><circle class="inf" cx="1006" cy="819" r="17"/></g>
<g id="nR34"><circle class="imm" cx="946" cy="837" r="15"/></g>
<g id="nG7"><circle class="gry" cx="999" cy="768" r="9"/></g>
<g id="nG8"><circle class="gry" cx="960" cy="784" r="9"/></g>
<g id="nG9"><circle class="gry" cx="904" cy="804" r="9"/></g>
<g id="nL5"><circle class="leu" cx="1208" cy="820" r="11"/></g>
<g id="nL6"><circle class="leu" cx="1244" cy="806" r="14"/></g>
<g id="nL7"><circle class="leu" cx="1295" cy="810" r="11"/></g>
<g id="nL8"><circle class="leun" cx="1246" cy="865" r="13"/></g>
<g id="nL9"><circle class="leu" cx="1312" cy="858" r="18"/></g>
<g id="nL10"><circle class="leu" cx="1178" cy="895" r="11"/></g>
<g id="nL11"><circle class="leu" cx="1308" cy="903" r="13"/></g>
<g id="nL12"><circle class="leu" cx="1233" cy="925" r="11"/></g>
<g id="nL13"><circle class="leut" cx="1278" cy="924" r="10"/></g>
<g id="nL14"><circle class="leu" cx="1297" cy="1003" r="17"/></g>
<g id="nL15"><circle class="leu" cx="1349" cy="1031" r="12"/></g>
<g id="nI7"><circle class="inf" cx="1261" cy="1061" r="14"/></g>
<g id="nL16"><circle class="leu" cx="1321" cy="1062" r="16"/></g>
<g id="nL17"><circle class="leu" cx="1373" cy="1085" r="11"/></g>
<g id="nL18"><circle class="leu" cx="1268" cy="1126" r="13"/></g>
<g id="nL19"><circle class="leu" cx="1323" cy="1139" r="9"/></g>
<g id="nL20"><circle class="leu" cx="1327" cy="1155" r="11"/></g>
<g id="nX1"><circle class="olv" cx="1383" cy="663" r="11"/></g>
<g id="nX2"><circle class="olv" cx="1465" cy="664" r="7"/></g>
<g id="nX3"><circle class="olv" cx="1323" cy="684" r="8"/></g>
<g id="nX4"><circle class="olv" cx="1316" cy="689" r="8"/></g>
<g id="nX5"><circle class="ox" cx="1422" cy="701" r="17"/></g>
<g id="nX6"><circle class="olv" cx="1258" cy="745" r="11"/></g>
<g id="nX7"><circle class="olv" cx="1418" cy="753" r="9"/></g>
<g id="nX8"><circle class="oxt" cx="1443" cy="749" r="7"/></g>
<g id="nX9"><circle class="olv" cx="1333" cy="788" r="9"/></g>
<g id="nX10"><circle class="olv" cx="1385" cy="788" r="9"/></g>
<g id="nX11"><circle class="oxt" cx="1483" cy="740" r="8"/></g>
<g id="nX12"><circle class="oxt" cx="1543" cy="684" r="6"/></g>
<g id="nX13"><circle class="ox" cx="1428" cy="814" r="19"/></g>
<g id="nX14"><circle class="ox" cx="1513" cy="792" r="19"/></g>
<g id="nX15"><circle class="olv" cx="1587" cy="812" r="14"/></g>
<g id="nX16"><circle class="oxt" cx="1536" cy="878" r="15"/></g>
<g id="nE1"><circle class="ret" cx="1214" cy="86" r="17"/></g>
<g id="nE2"><circle class="ret" cx="1335" cy="41" r="12"/></g>
<g id="nE3"><circle class="ret" cx="1310" cy="128" r="17"/></g>
<g id="nE4"><circle class="ret" cx="1463" cy="126" r="10"/></g>
<g id="nE5"><circle class="ret" cx="1225" cy="188" r="12"/></g>
<g id="nD1"><circle class="dia" cx="1181" cy="193" r="11"/></g>
<g id="nD2"><circle class="dia" cx="1203" cy="210" r="10"/></g>
<g id="nD3"><circle class="dia" cx="1222" cy="212" r="8"/></g>
<g id="nD4"><circle class="dia" cx="1268" cy="227" r="15"/></g>
<g id="nD5"><circle class="dian" cx="1176" cy="268" r="12"/></g>
<g id="nD6"><circle class="dia" cx="1281" cy="260" r="9"/></g>
<g id="nD7"><circle class="dia" cx="1160" cy="280" r="8"/></g>
<g id="nD8"><circle class="dia" cx="1165" cy="288" r="8"/></g>
<g id="nD9"><circle class="dia" cx="1287" cy="284" r="13"/></g>
<g id="nD10"><circle class="dia" cx="1176" cy="321" r="9"/></g>
<g id="nD11"><circle class="dia" cx="1254" cy="340" r="11"/></g>
<g id="nD12"><circle class="dia" cx="1188" cy="347" r="8"/></g>
<g id="nD13"><circle class="dia" cx="1381" cy="165" r="17"/></g>
<g id="nD14"><circle class="dia" cx="1320" cy="227" r="20"/></g>
<g id="nD15"><circle class="dia" cx="1446" cy="218" r="14"/></g>
<g id="nD16"><circle class="dia" cx="1381" cy="279" r="9"/></g>
<g id="nD17"><circle class="dia" cx="1336" cy="297" r="17"/></g>
<g id="nD18"><circle class="dia" cx="1408" cy="315" r="10"/></g>
<g id="nD19"><circle class="dia" cx="1062" cy="374" r="16"/></g>
<g id="nD20"><circle class="dia" cx="1121" cy="379" r="21"/></g>
<g id="nD21"><circle class="dia" cx="1217" cy="421" r="21"/></g>
<g id="nD22"><circle class="dian" cx="1318" cy="397" r="12"/></g>
<g id="nDL1"><circle class="diat" cx="1063" cy="427" r="21"/></g>
<g id="nDL2"><circle class="diat" cx="1113" cy="431" r="16"/></g>
<g id="nDL3"><circle class="dian" cx="1019" cy="448" r="9"/></g>
<g id="nDL4"><circle class="diat" cx="943" cy="455" r="16"/></g>
<g id="nDL5"><circle class="diat" cx="1167" cy="476" r="19"/></g>
<g id="nDL6"><circle class="diat" cx="994" cy="497" r="15"/></g>
<g id="nDL7"><circle class="diat" cx="1091" cy="524" r="16"/></g>
<g id="nD23"><circle class="dia" cx="1289" cy="497" r="15"/></g>
<g id="nD24"><circle class="dia" cx="1268" cy="505" r="8"/></g>
<g id="nD25"><circle class="dia" cx="1198" cy="512" r="8"/></g>
<g id="nD26"><circle class="dia" cx="1309" cy="558" r="9"/></g>
<g id="nD27"><circle class="dia" cx="1198" cy="594" r="8"/></g>
<g id="nD28"><circle class="dia" cx="1205" cy="603" r="8"/></g>
<g id="nD29"><circle class="dia" cx="1283" cy="623" r="9"/></g>
<g id="nDL8"><circle class="diat" cx="1231" cy="625" r="9"/></g>
<g id="nD30"><circle class="dia" cx="1098" cy="606" r="18"/></g>
<g id="nD31"><circle class="dia" cx="1052" cy="619" r="12"/></g>
<g id="nD32"><circle class="dia" cx="1138" cy="670" r="7"/></g>
<g id="nD33"><circle class="diat" cx="1334" cy="444" r="8"/></g>
<g id="nD34"><circle class="dia" cx="1361" cy="441" r="9"/></g>
<g id="nD35"><circle class="dia" cx="1386" cy="454" r="15"/></g>
<g id="nD36"><circle class="dia" cx="1410" cy="441" r="13"/></g>
<g id="nD37"><circle class="dia" cx="1433" cy="455" r="10"/></g>
<g id="nD38"><circle class="dia" cx="1322" cy="468" r="11"/></g>
<g id="nD39"><circle class="dian" cx="1365" cy="490" r="9"/></g>
<g id="nD40"><circle class="diat" cx="1385" cy="482" r="10"/></g>
<g id="nD41"><circle class="dia" cx="1434" cy="483" r="14"/></g>
<g id="nD42"><circle class="diat" cx="1409" cy="497" r="13"/></g>
<g id="nI8"><circle class="inf" cx="1147" cy="540" r="16"/></g>
<g id="nI9"><circle class="inf" cx="1178" cy="566" r="15"/></g>
<g id="nR35"><circle class="imm" cx="1129" cy="629" r="7"/></g>
<g id="nRT1"><circle class="ret" cx="1004" cy="646" r="7"/></g>
<g id="nRT2"><circle class="ret" cx="994" cy="564" r="8"/></g>
<g id="nP44"><circle class="pk" cx="1039" cy="651" r="6"/></g>
<g id="nP45"><circle class="pk" cx="1122" cy="654" r="6"/></g>
<g id="nP46"><circle class="pk" cx="1119" cy="723" r="6"/></g>
<g id="nP47"><circle class="pk" cx="1224" cy="730" r="6"/></g>
<g id="nP48"><circle class="pk" cx="1057" cy="730" r="8"/></g>
<g id="nC3"><circle class="br" cx="754" cy="501" r="22"/></g>
<g id="nC1"><circle class="br" cx="763" cy="427" r="8"/></g>
<g id="nC2"><circle class="br" cx="713" cy="476" r="7"/></g>
<g id="nC4"><circle class="pk" cx="771" cy="505" r="7"/></g>
<g id="nC5"><circle class="br" cx="781" cy="514" r="6"/></g>
<g id="nC6"><circle class="br" cx="700" cy="511" r="8"/></g>
<g id="nC7"><circle class="pk" cx="711" cy="524" r="8"/></g>
<g id="nC8"><circle class="sal" cx="658" cy="520" r="7"/></g>
<g id="nC9"><circle class="inf" cx="625" cy="541" r="18"/></g>
<g id="nC10"><circle class="pkl" cx="675" cy="565" r="7"/></g>
<g id="nC11"><circle class="pk" cx="723" cy="568" r="16"/></g>
<g id="nC12"><circle class="sal" cx="765" cy="558" r="7"/></g>
<g id="nC13"><circle class="sn" cx="797" cy="571" r="8"/></g>
<g id="nC14"><circle class="pk" cx="783" cy="538" r="9"/></g>
<g id="nC15"><circle class="imm" cx="803" cy="548" r="6"/></g>
<g id="nC17"><circle class="sal" cx="853" cy="540" r="19"/></g>
<g id="nC16"><circle class="pk" cx="823" cy="543" r="16"/></g>
<g id="nC18"><circle class="br" cx="700" cy="588" r="12"/></g>
<g id="nC19"><circle class="pk" cx="690" cy="603" r="7"/></g>
<g id="nC20"><circle class="br" cx="764" cy="600" r="14"/></g>
<g id="nC21"><circle class="br" cx="772" cy="622" r="15"/></g>
<g id="nC22"><circle class="br" cx="747" cy="613" r="6"/></g>
<g id="nC23"><circle class="br" cx="741" cy="618" r="6"/></g>
<g id="nC24"><circle class="br" cx="813" cy="623" r="9"/></g>
<g id="nC25"><circle class="leu" cx="838" cy="597" r="9"/></g>
<g id="nC26"><circle class="veg" cx="883" cy="604" r="11"/></g>
<g id="nC27"><circle class="br" cx="936" cy="604" r="9"/></g>
<g id="nC28"><circle class="pk" cx="799" cy="457" r="11"/></g>
<g id="nC29"><circle class="pk" cx="790" cy="467" r="10"/></g>
<g id="nC30"><circle class="br" cx="839" cy="436" r="15"/></g>
<g id="nC31"><circle class="pk" cx="873" cy="413" r="19"/></g>
<g id="nV1"><circle class="veg" cx="859" cy="503" r="9"/></g>
<g id="nV2"><circle class="veg" cx="889" cy="505" r="12"/></g>
<g id="nP50"><circle class="pk" cx="915" cy="493" r="13"/></g>
<g id="nV3"><circle class="veg" cx="907" cy="507" r="7"/></g>
<g id="nV4"><circle class="veg" cx="959" cy="534" r="8"/></g>
<g id="nC32"><circle class="br" cx="690" cy="651" r="12"/></g>
<g id="nC33"><circle class="imm" cx="790" cy="652" r="8"/></g>
<g id="nI10"><circle class="imm" cx="871" cy="629" r="14"/></g>
<g id="nI11"><circle class="inf" cx="906" cy="638" r="14"/></g>
<g id="nL21"><circle class="leu" cx="954" cy="627" r="16"/></g>
<g id="nL22"><circle class="leun" cx="857" cy="654" r="8"/></g>
<g id="nI12"><circle class="inf" cx="824" cy="658" r="19"/></g>
<g id="nR36"><circle class="imm" cx="860" cy="681" r="18"/></g>
<g id="nR37"><circle class="imm" cx="891" cy="673" r="14"/></g>
<g id="nL23"><circle class="leu" cx="973" cy="668" r="16"/></g>
<g id="nC34"><circle class="br" cx="732" cy="693" r="19"/></g>
<g id="nC35"><circle class="br" cx="762" cy="688" r="15"/></g>
<g id="nL24"><circle class="leu" cx="815" cy="707" r="19"/></g>
<g id="nL25"><circle class="leu" cx="902" cy="707" r="19"/></g>
<g id="nL26"><circle class="leu" cx="938" cy="710" r="11"/></g>
<g id="nL27"><circle class="leu" cx="761" cy="747" r="15"/></g>
<g id="nR38"><circle class="imm" cx="819" cy="752" r="13"/></g>
<g id="nL28"><circle class="leu" cx="848" cy="743" r="19"/></g>
<g id="nL29"><circle class="leu" cx="965" cy="739" r="19"/></g>
<g id="nG3"><circle class="gry" cx="397" cy="1183" r="14"/></g>
<g id="nG10"><circle class="gry" cx="490" cy="1190" r="15"/></g>
<g id="nG4"><circle class="gry" cx="200" cy="1233" r="18"/></g>
<g id="nG5"><circle class="gry" cx="325" cy="1231" r="11"/></g>
<g id="nG11"><circle class="gry" cx="407" cy="1224" r="9"/></g>
<g id="nG12"><circle class="gry" cx="522" cy="1274" r="9"/></g>
<g id="nG6"><circle class="gry" cx="287" cy="1298" r="21"/></g>
<g id="nG13"><circle class="gry" cx="368" cy="1298" r="17"/></g>
<g id="nG14"><circle class="gry" cx="440" cy="1306" r="15"/></g>
<g id="nG15"><circle class="gry" cx="573" cy="1285" r="15"/></g>
<g id="nG16"><circle class="gry" cx="622" cy="1263" r="9"/></g>
<g id="nG17"><circle class="gry" cx="675" cy="1267" r="14"/></g>
<g id="nG18"><circle class="gry" cx="710" cy="1264" r="19"/></g>
<g id="nG19"><circle class="gry" cx="751" cy="1270" r="15"/></g>
<g id="nG20"><circle class="gry" cx="813" cy="1283" r="11"/></g>
<g id="nG21"><circle class="gry" cx="828" cy="1307" r="10"/></g>
<g id="nG22"><circle class="gry" cx="842" cy="1332" r="10"/></g>
<g id="nG23"><circle class="gry" cx="719" cy="1315" r="8"/></g>
<g id="nG24"><circle class="gry" cx="727" cy="1367" r="10"/></g>
<g id="nG25"><circle class="gry" cx="769" cy="1398" r="14"/></g>
<g id="nG26"><circle class="gry" cx="823" cy="1392" r="12"/></g>
<g id="nG27"><circle class="gry" cx="826" cy="1102" r="15"/></g>
<g id="nG28"><circle class="gry" cx="844" cy="1137" r="9"/></g>
<g id="nG29"><circle class="gry" cx="824" cy="1174" r="16"/></g>
<g id="nG30"><circle class="gry" cx="910" cy="1197" r="16"/></g>
<g id="nG31"><circle class="gry" cx="944" cy="1191" r="11"/></g>
<g id="nG32"><circle class="gry" cx="985" cy="1208" r="20"/></g>
<g id="nG33"><circle class="gry" cx="841" cy="1242" r="17"/></g>
<g id="nG34"><circle class="gry" cx="915" cy="1252" r="14"/></g>
<g id="nG35"><circle class="gry" cx="872" cy="1297" r="18"/></g>
<g id="nG36"><circle class="gry" cx="920" cy="1313" r="20"/></g>
<g id="nG37"><circle class="gry" cx="969" cy="1333" r="21"/></g>
<g id="nG38"><circle class="gry" cx="922" cy="1387" r="15"/></g>
<g id="nG39"><circle class="gryt" cx="923" cy="1426" r="12"/></g>
<g id="nG40"><circle class="gryn" cx="864" cy="1434" r="14"/></g>
<g id="nG41"><circle class="gry" cx="950" cy="1443" r="10"/></g>
<g id="nG42"><circle class="gryn" cx="812" cy="1482" r="10" style="fill:#e2e2e2"/></g>
<g id="nG43"><circle class="gry" cx="783" cy="1438" r="19"/></g>
<g id="nG44"><circle class="gry" cx="327" cy="1394" r="15"/></g>
<g id="nG45"><circle class="gry" cx="430" cy="1382" r="16"/></g>
<g id="nG46"><circle class="gry" cx="552" cy="1424" r="7"/></g>
<g id="nG47"><circle class="gry" cx="640" cy="1367" r="8"/></g>
<g id="nG48"><circle class="gry" cx="629" cy="1401" r="11"/></g>
<g id="nG49"><circle class="gry" cx="554" cy="1473" r="8"/></g>
<g id="nG50"><circle class="gry" cx="677" cy="1493" r="8"/></g>
<g id="nG51"><circle class="gry" cx="711" cy="1510" r="15"/></g>
<g id="nG52"><circle class="gry" cx="749" cy="1540" r="17"/></g>
<g id="nG53"><circle class="gry" cx="625" cy="1568" r="16"/></g>
</g>

<g id="legend">
<text class="lt" x="1659" y="147" style="font-weight:bold;font-size:52px">Categories of processes</text>
<rect id="box-ox" class="box" x="1622" y="193" width="1167" height="99" rx="18" fill="#fff8e9" stroke="#fce6a6"/>
<rect id="box-inflam" class="box" x="1622" y="293" width="1167" height="311" rx="45" fill="#fcf2ec" stroke="#f8dcd0"/>
<rect id="box-angio" class="box" x="1622" y="605" width="1167" height="100" rx="18" fill="#ffeaea" stroke="#fcd0d0"/>
<rect id="box-retino" class="box" x="1622" y="1213" width="1167" height="364" rx="45" fill="#f4f4f4" stroke="#e6e6e6"/>
<rect id="box-brb" class="box" x="1622" y="910" width="1167" height="413" rx="60" fill="#eef2fa" stroke="#dfe5f2"/>
<rect id="box-osm" class="box" x="1622" y="1213" width="1167" height="110" rx="55" fill="#e9ebf0" stroke="#dadde6"/>

<g id="leg-ox"><rect class="sw" x="1665" y="208" width="78" height="76" rx="12" fill="#eed86a"/><text class="lt" x="1768" y="266">Oxidative Stress</text></g>
<g id="leg-gen"><rect class="sw" x="1665" y="307" width="78" height="76" rx="12" fill="#e00a0a"/><text class="lt" x="1768" y="368">General immune-related processes</text></g>
<g id="leg-infl"><rect class="sw" x="1665" y="406" width="78" height="76" rx="12" fill="#e05858"/><text class="lt" x="1768" y="470">Inflammation</text></g>
<g id="leg-leuk"><rect class="sw" x="1665" y="507" width="78" height="76" rx="12" fill="#bc9494"/><text class="lt" x="1768" y="573">Leukostasis</text></g>
<g id="leg-angio"><rect class="sw" x="1665" y="614" width="78" height="76" rx="12" fill="#ff8080"/><text class="lt" x="1768" y="673">Angiogenesis</text></g>
<g id="leg-vegf"><rect class="sw" x="1665" y="718" width="78" height="76" rx="12" fill="#761c44"/><text class="lt" x="1768" y="778">VEGFs and VEGFA</text></g>
<g id="leg-sig"><rect class="sw" x="1665" y="815" width="78" height="78" rx="12" fill="#ff99ff"/><text class="lt" x="1768" y="880">Signaling and pathways</text></g>
<g id="leg-rem"><rect class="sw" x="1665" y="922" width="78" height="78" rx="12" fill="#5ecaa8"/><text class="lt" x="1768" y="983">Remodeling, survival and endothelial damage</text></g>
<g id="leg-perm"><rect class="sw" x="1665" y="1026" width="78" height="78" rx="12" fill="#4a62c4"/><text class="lt" x="1768" y="1086">Permeability</text></g>
<g id="leg-adh"><rect class="sw" x="1665" y="1129" width="78" height="78" rx="12" fill="#7466f0"/><text class="lt" x="1768" y="1188">Adhesion, cytoskeleton and junction</text></g>
<g id="leg-osm"><rect class="sw" x="1665" y="1232" width="78" height="79" rx="12" fill="#80b8d6"/><text class="lt" x="1768" y="1288">Osmotic stress and ionic channels</text></g>
<g id="leg-ret"><rect class="sw" x="1665" y="1336" width="78" height="79" rx="12" fill="#dcfadc"/><text class="lt" x="1768" y="1392">Retinopathy and glia-related</text></g>
<g id="leg-dia"><rect class="sw" x="1665" y="1438" width="78" height="79" rx="12" fill="#98fa98"/><text class="lt" x="1768" y="1494">Diabetic pathway-related</text></g>

<path class="br2" d="M2793 299H2816V605H2793M2816 452H2839"/>
<path class="br2" d="M2793 912H2817V1312H2793M2817 1113H2839"/>
<path class="br2" d="M2827 1219H2848V1527H2827M2848 1375H2872"/>
<text class="lt" x="2874" y="466">Inflammation</text>
<text class="lt" x="2874" y="1089">BRB alteration</text>
<text class="lt" x="2874" y="1153">and permeability</text>
<text class="lt" x="2874" y="1353">Retinopathy-</text>
<text class="lt" x="2874" y="1420">related process</text>
</g>
</svg>
